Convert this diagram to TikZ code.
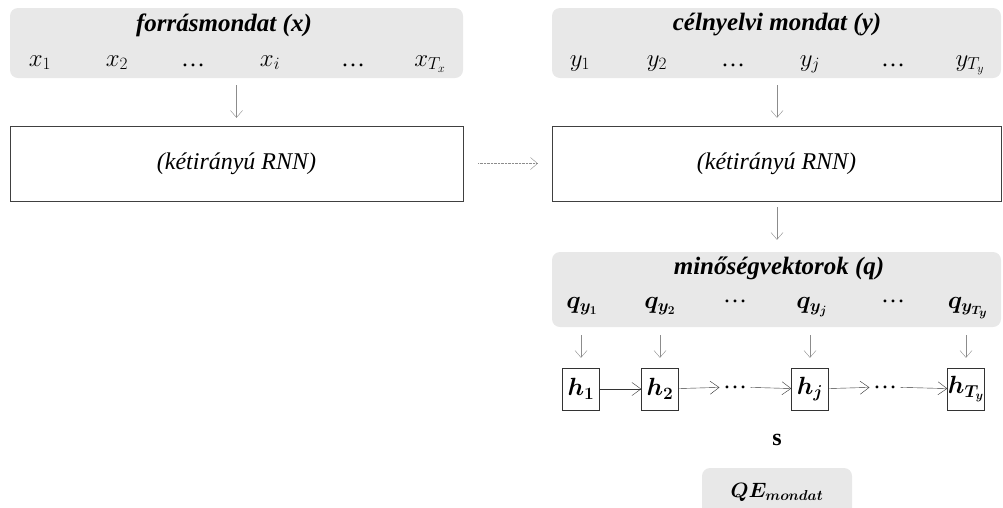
\documentclass[tikz,border=0pt]{standalone}
\usepackage{fontspec}
\setmainfont{Liberation Serif}
\usepackage{amsmath}
\usepackage{bm}
\usetikzlibrary{arrows.meta}

\tikzset{
 panel/.style={fill=black!9, rounded corners=8pt, inner sep=0},
 rnnbox/.style={draw=black!75, fill=white, minimum width=453pt, minimum height=75pt, inner sep=0, font=\fontsize{24}{26}\selectfont\itshape},
 hbox/.style={draw=black!80, minimum width=37pt, minimum height=42pt, inner sep=0, font=\fontsize{23}{25}\selectfont},
 flow/.style={-{Straight Barb[length=7pt,width=12pt]}, draw=black!45, thin},
 chain/.style={-{Straight Barb[length=9pt,width=13pt]}, draw=black!80, thin},
 title/.style={font=\fontsize{25}{28}\selectfont\bfseries\itshape},
 item/.style={font=\fontsize{24}{26}\selectfont}
}

\begin{document}
\begin{tikzpicture}[x=1pt,y=-1pt]
\useasboundingbox (0,0) rectangle (1003,507);
% source and target sentences
\node[panel, minimum width=453pt, minimum height=70pt] (src) at (236.5,43) {};
\node[panel, minimum width=449pt, minimum height=70pt] (tgt) at (776.5,43) {};
\node[title] (srct) at (224,25) {forrásmondat (x)};
\node[title] (tgtt) at (777,25) {célnyelvi mondat (y)};
\foreach \px/\t in {40/$x_1$, 117/$x_2$, 193/…, 270/$x_i$, 353/…, 430/$x_{T_x}$}
 \node[item, anchor=base] (x\px) at (\px,66) {\t};
\foreach \px/\t in {580/$y_1$, 657/$y_2$, 733/…, 810/$y_j$, 893/…, 970/$y_{T_y}$}
 \node[item, anchor=base] (y\px) at (\px,66) {\t};
% encoders
\node[rnnbox] (rnnx) at (236.5,163.5) {(kétirányú RNN)};
\node[rnnbox, minimum width=449pt] (rnny) at (776.5,163.5) {(kétirányú RNN)};
\draw[flow, shorten <=7pt, shorten >=8pt] (src.south -| rnnx) -- (rnnx.north);
\draw[flow, shorten <=7pt, shorten >=8pt] (tgt.south -| 777,0) -- (rnny.north -| 777,0);
\draw[flow, densely dotted, shorten <=15pt, shorten >=14pt] (rnnx.east) -- (rnny.west);
% quality vectors
\node[panel, minimum width=449pt, minimum height=75pt] (qp) at (776.5,289.5) {};
\node[title] (qpt) at (779,268) {minőségvektorok (q)};
\draw[flow, shorten <=6pt, shorten >=12pt] (rnny.south -| 777,0) -- (qp.north -| 777,0);
\foreach \px/\t in {582/$\bm{q}_{\bm{y_1}}$, 660/$\bm{q}_{\bm{y_2}}$, 735/\raisebox{6pt}{…}, 812/$\bm{q}_{\bm{y_j}}$, 893/\raisebox{6pt}{…}, 968/$\bm{q}_{\bm{y_{T_y}}}$}
 \node[item, anchor=base] (q\px) at (\px,308) {\t};
% hidden states
\node[hbox] (h1) at (581,389) {$\bm{h_1}$};
\node[hbox] (h2) at (660,389) {$\bm{h_2}$};
\node[item] (d1) at (735,387) {…};
\node[hbox] (hj) at (810,389) {$\bm{h_j}$};
\node[item] (d2) at (885,387) {…};
\node[hbox] (hT) at (966,389) {$\bm{h_{T_y}}$};
\foreach \n in {h1,h2,hj,hT}
 \draw[flow, shorten <=8pt, shorten >=10pt] (qp.south -| \n) -- (\n.north);
\draw[chain] (h1) -- (h2);
\draw[chain] (h2) -- (d1);
\draw[chain] (d1) -- (hj);
\draw[chain] (hj) -- (d2);
\draw[chain] (d2) -- (hT);
% sentence score
\node[font=\fontsize{24}{26}\selectfont\bfseries] (s) at (777,440) {s};
\node[panel, minimum width=150pt, minimum height=48pt] (qe) at (777,492) {};
\node[font=\fontsize{21}{23}\selectfont] (qet) at (777,492) {$\bm{QE_{mondat}}$};
\end{tikzpicture}
\end{document}
